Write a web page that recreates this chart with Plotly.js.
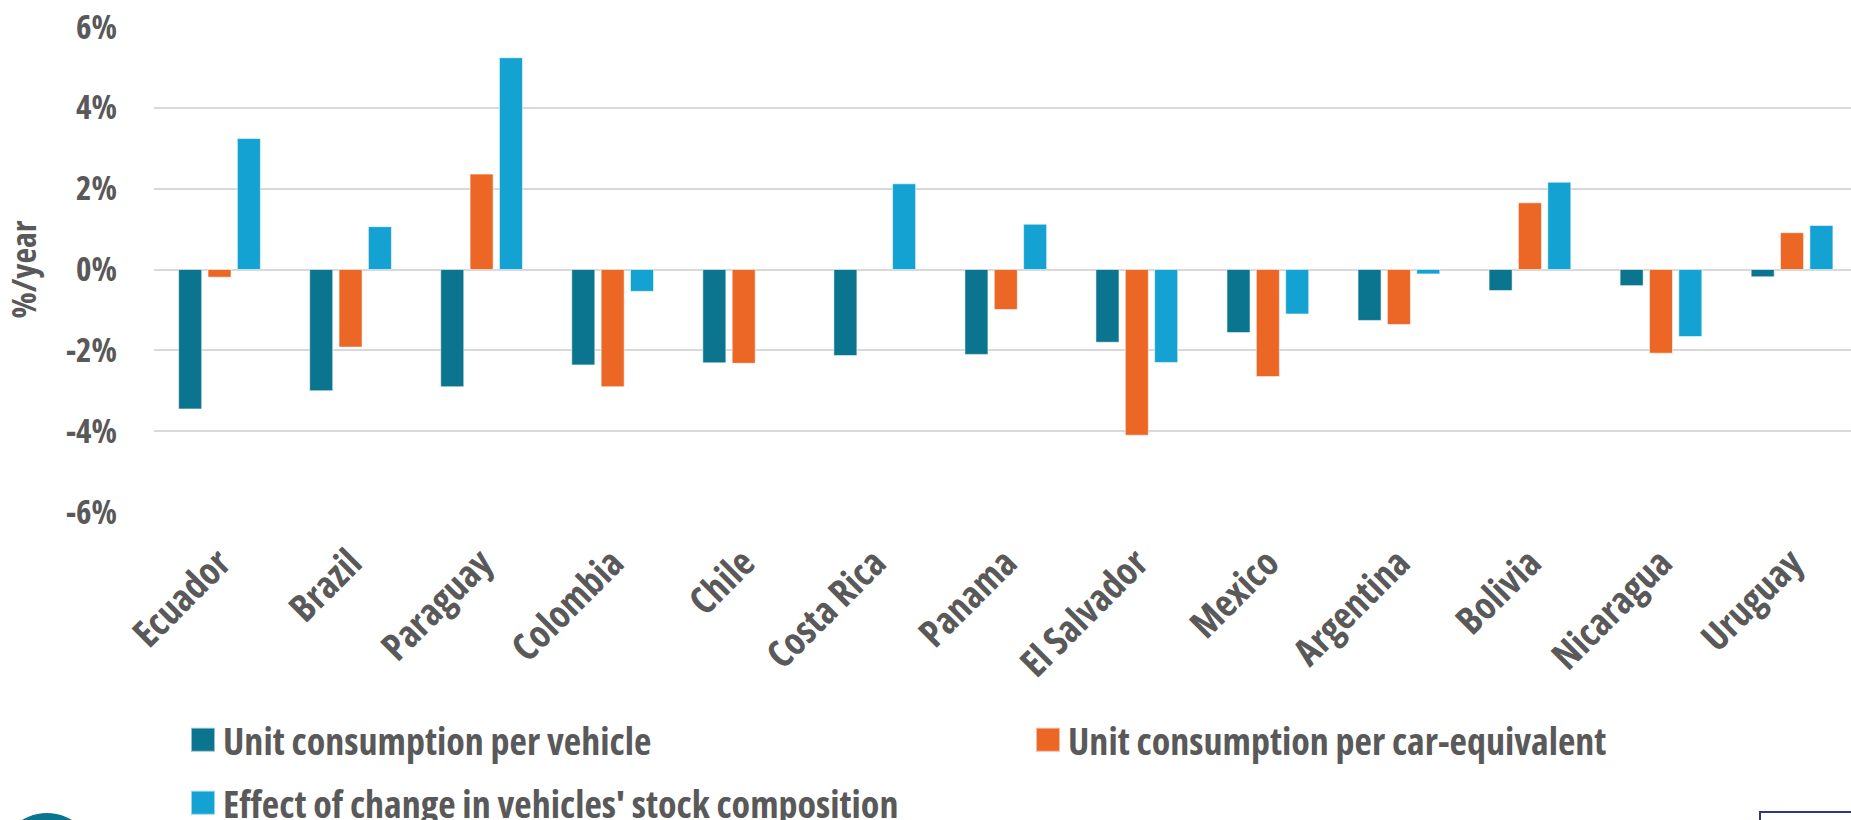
<!DOCTYPE html>
<html><head><meta charset="utf-8">
<script src="https://cdn.plot.ly/plotly-3.0.1.min.js"></script>
<style>
html,body{margin:0;padding:0;background:#fff;overflow:hidden;}
#chart{width:1851px;height:820px;}
.main-svg text{font-stretch:75% !important;}
.legendpoints path{transform:translate(20px,0px) scale(2);}
</style></head><body><div id="chart"></div>
<script>
// ---- data (percent per year) ----
const countries = ["Ecuador","Brazil","Paraguay","Colombia","Chile","Costa Rica","Panama","El Salvador","Mexico","Argentina","Bolivia","Nicaragua","Uruguay"];
const unitPerVehicle = [-3.45,-3.00,-2.90,-2.36,-2.31,-2.13,-2.10,-1.80,-1.56,-1.26,-0.52,-0.40,-0.18];
const unitPerCarEquivalent = [-0.19,-1.92,2.36,-2.90,-2.32,null,-0.99,-4.10,-2.65,-1.36,1.65,-2.07,0.91];
const stockCompositionEffect = [3.24,1.06,5.24,-0.54,null,2.12,1.12,-2.30,-1.10,-0.11,2.16,-1.66,1.09];
const seriesNames = ["Unit consumption per vehicle","Unit consumption per car-equivalent","Effect of change in vehicles' stock composition"];
const yTickValues = [-6,-4,-2,0,2,4,6];
const yTickLabels = ["-6%","-4%","-2%","0%","2%","4%","6%"];
const yAxisTitle = "%/year";

// ---- style ----
const colors = ["#0B758F","#EC6726","#14A2D3"];
const textColor = "#595959";
const fontFamily = "'Open Sans', 'Liberation Sans Narrow', sans-serif";
const W = 1851, H = 820;
const M = {l:154, r:0, t:27, b:308, autoexpand: false};
const plotW = W - M.l - M.r, plotH = H - M.t - M.b;
const px = x => (x - M.l) / plotW;
const py = y => (H - M.b - y) / plotH;

const legendIds = ["legend","legend2","legend3"];
const seriesValues = [unitPerVehicle, unitPerCarEquivalent, stockCompositionEffect];
const traces = seriesValues.map((vals, i) => ({
  type: "bar",
  x: countries,
  y: vals,
  name: seriesNames[i],
  legend: legendIds[i],
  marker: {color: colors[i], line: {color: "rgba(255,255,255,0.55)", width: 1}},
  hoverinfo: "x+y+name"
}));

const legendBase = {
  orientation: "h", xanchor: "left", yanchor: "middle",
  bgcolor: "rgba(0,0,0,0)", borderwidth: 0,
  font: {family: fontFamily, size: 38, color: textColor, weight: 700},
  itemclick: false, itemdoubleclick: false
};
// legend positions (left edge of item box, vertical centre), in pixels
const legendPos = [[183, 740], [1028, 740], [183, 803]];

const layout = {
  width: W, height: H,
  margin: M,
  paper_bgcolor: "#ffffff", plot_bgcolor: "#ffffff",
  font: {family: fontFamily, color: textColor, weight: 700},
  barmode: "group",
  bargap: 0.328,
  bargroupgap: 0.215,
  showlegend: true,
  xaxis: {
    type: "category",
    range: [-0.5, 12.45],
    tickangle: -45,
    tickfont: {family: fontFamily, size: 38, color: textColor, weight: 700},
    ticklabelstandoff: 20,
    showgrid: false, showline: false, zeroline: false, ticks: "",
    automargin: false, fixedrange: true
  },
  yaxis: {
    range: [-6, 6],
    tickmode: "array",
    tickvals: yTickValues,
    ticktext: yTickLabels,
    tickfont: {family: fontFamily, size: 33, color: textColor, weight: 700},
    ticklabelstandoff: 36,
    showgrid: true, gridcolor: "#D9D9D9", gridwidth: 2,
    zeroline: true, zerolinecolor: "#D9D9D9", zerolinewidth: 2,
    showline: false, ticks: "",
    automargin: false, fixedrange: true,
    title: {text: yAxisTitle, font: {family: fontFamily, size: 34, color: textColor, weight: 700}, standoff: 10}
  },
  shapes: [
    {type: "circle", xref: "paper", yref: "paper", layer: "above",
     x0: px(-1), x1: px(95), y0: py(909), y1: py(813),
     fillcolor: "#0B758F", line: {width: 0}},
    {type: "rect", xref: "paper", yref: "paper", layer: "above",
     x0: px(1760), x1: px(1880), y0: py(900), y1: py(812),
     fillcolor: "#ffffff", line: {color: "#2E3C7E", width: 2}}
  ]
};
legendIds.forEach((id, i) => {
  layout[id] = Object.assign({}, legendBase, {x: px(legendPos[i][0]), y: py(legendPos[i][1])});
});

Plotly.newPlot("chart", traces, layout, {displayModeBar: false});
</script></body></html>
